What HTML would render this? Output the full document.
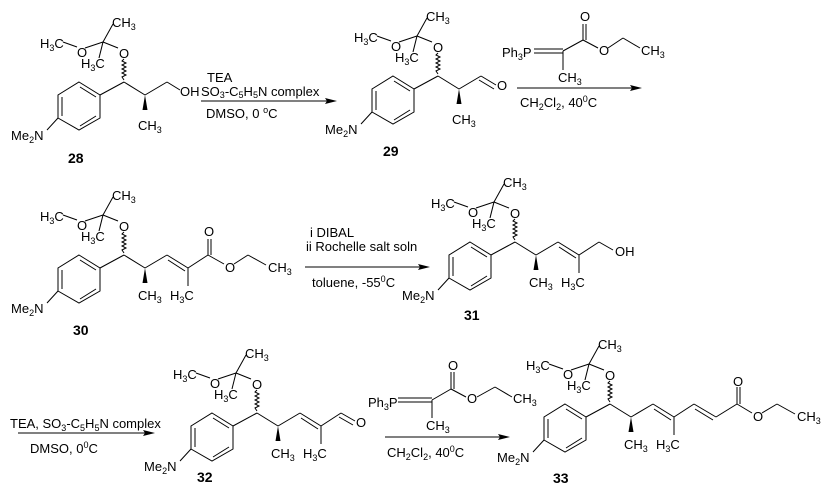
<!DOCTYPE html>
<html><head><meta charset="utf-8"><style>
html,body{margin:0;padding:0;background:#fff;}
svg{display:block;}
text{font-family:"Liberation Sans",Arial,sans-serif;font-size:13px;fill:#000;}
.b{font-weight:bold;font-size:14px;}
</style></head><body>
<svg width="832" height="498" viewBox="0 0 832 498" xmlns="http://www.w3.org/2000/svg">
<defs>
<g id="core" stroke="#000" stroke-width="1" fill="none">
<line x1="103" y1="42" x2="113" y2="24"/>
<line x1="63" y1="42" x2="77" y2="47"/>
<line x1="85" y1="48" x2="103" y2="42"/>
<line x1="103" y1="42" x2="99" y2="58"/>
<line x1="103" y1="42" x2="118" y2="48"/>
<path d="M124 59 l-2 2 l4 2 l-4 2 l4 2 l-4 2 l4 2 l-4 2 l4 2 l-4 2 l2 3"/>
<polygon points="79,82 100,95 100,118 79,130 58,118 58,95"/>
<line x1="62" y1="97" x2="62" y2="116"/>
<line x1="80" y1="87" x2="96" y2="97"/>
<line x1="96" y1="116" x2="80" y2="126"/>
<line x1="58" y1="118" x2="47" y2="130"/>
<line x1="100" y1="95" x2="124" y2="82"/>
<line x1="124" y1="82" x2="145" y2="95"/>
<line x1="145" y1="95" x2="167" y2="82"/>
</g>
<polygon id="wedge" points="145,95 142.5,110 147.5,110" fill="#000"/>
</defs>

<!-- 28 -->
<g>
<use href="#core"/><use href="#wedge"/>
<g stroke="#000" fill="none"><line x1="167" y1="82" x2="180" y2="90"/></g>
<text x="112" y="27">CH<tspan font-size="9" dy="3">3</tspan></text>
<text x="40" y="48">H<tspan font-size="9" dy="3">3</tspan><tspan dy="-3">C</tspan></text>
<text x="77" y="57">O</text>
<text x="81" y="68">H<tspan font-size="9" dy="3">3</tspan><tspan dy="-3">C</tspan></text>
<text x="119" y="58">O</text>
<text x="138" y="130">CH<tspan font-size="9" dy="3">3</tspan></text>
<text x="11" y="140">Me<tspan font-size="9" dy="3">2</tspan><tspan dy="-3">N</tspan></text>
<text x="180" y="96">OH</text>
<text class="b" x="68" y="163">28</text>
</g>

<!-- arrow 1 -->
<g stroke="#000"><line x1="201" y1="101" x2="333" y2="101"/></g>
<polygon points="337,101 325,98 327,101 325,104" fill="#000"/>
<text x="207" y="82">TEA</text>
<text x="201" y="96">SO<tspan font-size="9" dy="2">3</tspan><tspan dy="-2">-C</tspan><tspan font-size="9" dy="2">5</tspan><tspan dy="-2">H</tspan><tspan font-size="9" dy="2">5</tspan><tspan dy="-2">N complex</tspan></text>
<text x="206" y="118">DMSO, 0 <tspan font-size="9" dy="-5">o</tspan><tspan dy="5">C</tspan></text>

<!-- 29 -->
<g transform="translate(314,-6)">
<use href="#core"/><use href="#wedge"/>
<g stroke="#000" fill="none"><line x1="167" y1="82" x2="182" y2="91"/><line x1="165" y1="86" x2="180" y2="95"/></g>
<text x="112" y="27">CH<tspan font-size="9" dy="3">3</tspan></text>
<text x="40" y="48">H<tspan font-size="9" dy="3">3</tspan><tspan dy="-3">C</tspan></text>
<text x="77" y="57">O</text>
<text x="81" y="68">H<tspan font-size="9" dy="3">3</tspan><tspan dy="-3">C</tspan></text>
<text x="119" y="58">O</text>
<text x="138" y="130">CH<tspan font-size="9" dy="3">3</tspan></text>
<text x="11" y="140">Me<tspan font-size="9" dy="3">2</tspan><tspan dy="-3">N</tspan></text>
<text x="183" y="96">O</text>
<text class="b" x="69" y="162">29</text>
</g>

<!-- arrow 2 -->
<g stroke="#000" fill="none">
<line x1="517" y1="88" x2="638" y2="88"/>
<line x1="534" y1="49" x2="563" y2="49"/><line x1="534" y1="53" x2="563" y2="53"/>
<line x1="563" y1="51" x2="563" y2="70"/>
<line x1="563" y1="51" x2="583" y2="40"/>
<line x1="583" y1="40" x2="583" y2="24"/><line x1="586" y1="40" x2="586" y2="24"/>
<line x1="583" y1="40" x2="598" y2="48"/>
<line x1="608" y1="48" x2="623" y2="38"/>
<line x1="623" y1="38" x2="640" y2="48"/>
</g>
<polygon points="642,88 630,85 632,88 630,91" fill="#000"/>
<text x="502" y="57">Ph<tspan font-size="9" dy="3">3</tspan><tspan dy="-3">P</tspan></text>
<text x="558" y="82">CH<tspan font-size="9" dy="3">3</tspan></text>
<text x="580" y="21">O</text>
<text x="599" y="55">O</text>
<text x="641" y="55">CH<tspan font-size="9" dy="3">3</tspan></text>
<text x="520" y="107">CH<tspan font-size="9" dy="3">2</tspan><tspan dy="-3">Cl</tspan><tspan font-size="9" dy="3">2</tspan><tspan dy="-3">, 40</tspan><tspan font-size="9" dy="-5">0</tspan><tspan dy="5">C</tspan></text>

<!-- 30 -->
<g transform="translate(0,173)">
<use href="#core"/><use href="#wedge"/>
<g stroke="#000" fill="none">
<line x1="167" y1="82" x2="188" y2="95"/><line x1="168" y1="87" x2="185" y2="98"/>
<line x1="188" y1="95" x2="188" y2="113"/>
<line x1="188" y1="95" x2="208" y2="82"/>
<line x1="208" y1="82" x2="208" y2="66"/><line x1="211" y1="82" x2="211" y2="66"/>
<line x1="208" y1="82" x2="224" y2="91"/>
<line x1="234" y1="91" x2="248" y2="82"/>
<line x1="248" y1="82" x2="266" y2="92"/>
</g>
<text x="112" y="27">CH<tspan font-size="9" dy="3">3</tspan></text>
<text x="40" y="48">H<tspan font-size="9" dy="3">3</tspan><tspan dy="-3">C</tspan></text>
<text x="77" y="57">O</text>
<text x="81" y="68">H<tspan font-size="9" dy="3">3</tspan><tspan dy="-3">C</tspan></text>
<text x="119" y="58">O</text>
<text x="138" y="127">CH<tspan font-size="9" dy="3">3</tspan></text>
<text x="170" y="127">H<tspan font-size="9" dy="3">3</tspan><tspan dy="-3">C</tspan></text>
<text x="204" y="63">O</text>
<text x="225" y="99">O</text>
<text x="268" y="99">CH<tspan font-size="9" dy="3">3</tspan></text>
<text x="11" y="140">Me<tspan font-size="9" dy="3">2</tspan><tspan dy="-3">N</tspan></text>
<text class="b" x="73" y="162">30</text>
</g>

<!-- arrow 3 -->
<g stroke="#000"><line x1="305" y1="267" x2="426" y2="267"/></g>
<polygon points="430,267 418,264 420,267 418,270" fill="#000"/>
<text x="310" y="237">i DIBAL</text>
<text x="306" y="251">ii Rochelle salt soln</text>
<text x="312" y="287">toluene, -55<tspan font-size="9" dy="-5">0</tspan><tspan dy="5">C</tspan></text>

<!-- 31 -->
<g transform="translate(391,160)">
<use href="#core"/><use href="#wedge"/>
<g stroke="#000" fill="none">
<line x1="167" y1="82" x2="188" y2="95"/><line x1="168" y1="87" x2="185" y2="98"/>
<line x1="188" y1="95" x2="188" y2="113"/>
<line x1="188" y1="95" x2="208" y2="82"/>
<line x1="208" y1="82" x2="222" y2="90"/>
</g>
<text x="112" y="27">CH<tspan font-size="9" dy="3">3</tspan></text>
<text x="40" y="48">H<tspan font-size="9" dy="3">3</tspan><tspan dy="-3">C</tspan></text>
<text x="77" y="57">O</text>
<text x="81" y="68">H<tspan font-size="9" dy="3">3</tspan><tspan dy="-3">C</tspan></text>
<text x="119" y="58">O</text>
<text x="138" y="127">CH<tspan font-size="9" dy="3">3</tspan></text>
<text x="170" y="127">H<tspan font-size="9" dy="3">3</tspan><tspan dy="-3">C</tspan></text>
<text x="224" y="96">OH</text>
<text x="11" y="140">Me<tspan font-size="9" dy="3">2</tspan><tspan dy="-3">N</tspan></text>
<text class="b" x="73" y="160">31</text>
</g>

<!-- arrow 4 -->
<g stroke="#000"><line x1="18" y1="433" x2="151" y2="433"/></g>
<polygon points="155,433 143,430 145,433 143,436" fill="#000"/>
<text x="10" y="428">TEA, SO<tspan font-size="9" dy="3">3</tspan><tspan dy="-3">-C</tspan><tspan font-size="9" dy="3">5</tspan><tspan dy="-3">H</tspan><tspan font-size="9" dy="3">5</tspan><tspan dy="-3">N complex</tspan></text>
<text x="30" y="453">DMSO, 0<tspan font-size="9" dy="-5">0</tspan><tspan dy="5">C</tspan></text>

<!-- 32 -->
<g transform="translate(133,331)">
<use href="#core"/><use href="#wedge"/>
<g stroke="#000" fill="none">
<line x1="167" y1="82" x2="188" y2="95"/><line x1="168" y1="87" x2="185" y2="98"/>
<line x1="188" y1="95" x2="188" y2="113"/>
<line x1="188" y1="95" x2="208" y2="82"/>
<line x1="208" y1="82" x2="222" y2="90"/><line x1="206" y1="86" x2="220" y2="94"/>
</g>
<text x="112" y="27">CH<tspan font-size="9" dy="3">3</tspan></text>
<text x="40" y="48">H<tspan font-size="9" dy="3">3</tspan><tspan dy="-3">C</tspan></text>
<text x="77" y="57">O</text>
<text x="81" y="68">H<tspan font-size="9" dy="3">3</tspan><tspan dy="-3">C</tspan></text>
<text x="119" y="58">O</text>
<text x="138" y="127">CH<tspan font-size="9" dy="3">3</tspan></text>
<text x="170" y="127">H<tspan font-size="9" dy="3">3</tspan><tspan dy="-3">C</tspan></text>
<text x="223" y="96">O</text>
<text x="11" y="140">Me<tspan font-size="9" dy="3">2</tspan><tspan dy="-3">N</tspan></text>
<text class="b" x="64" y="151">32</text>
</g>

<!-- arrow 5 -->
<g stroke="#000" fill="none">
<line x1="385" y1="437" x2="506" y2="437"/>
<line x1="398" y1="398" x2="432" y2="398"/><line x1="398" y1="402" x2="432" y2="402"/>
<line x1="432" y1="400" x2="432" y2="418"/>
<line x1="432" y1="400" x2="451" y2="389"/>
<line x1="451" y1="389" x2="451" y2="372"/><line x1="454" y1="389" x2="454" y2="372"/>
<line x1="451" y1="389" x2="466" y2="397"/>
<line x1="477" y1="397" x2="495" y2="387"/>
<line x1="495" y1="387" x2="512" y2="397"/>
</g>
<polygon points="510,437 498,434 500,437 498,440" fill="#000"/>
<text x="368" y="407">Ph<tspan font-size="9" dy="3">3</tspan><tspan dy="-3">P</tspan></text>
<text x="426" y="430">CH<tspan font-size="9" dy="3">3</tspan></text>
<text x="448" y="370">O</text>
<text x="467" y="403">O</text>
<text x="513" y="403">CH<tspan font-size="9" dy="3">3</tspan></text>
<text x="387" y="457">CH<tspan font-size="9" dy="3">2</tspan><tspan dy="-3">Cl</tspan><tspan font-size="9" dy="3">2</tspan><tspan dy="-3">, 40</tspan><tspan font-size="9" dy="-5">0</tspan><tspan dy="5">C</tspan></text>

<!-- 33 -->
<g transform="translate(486,322)">
<use href="#core"/><use href="#wedge"/>
<g stroke="#000" fill="none">
<line x1="167" y1="82" x2="188" y2="95"/><line x1="168" y1="87" x2="185" y2="98"/>
<line x1="188" y1="95" x2="188" y2="113"/>
<line x1="188" y1="95" x2="208" y2="82"/>
<line x1="208" y1="82" x2="230" y2="95"/><line x1="209" y1="87" x2="227" y2="98"/>
<line x1="230" y1="95" x2="251" y2="82"/>
<line x1="251" y1="82" x2="251" y2="65"/><line x1="254" y1="82" x2="254" y2="65"/>
<line x1="251" y1="82" x2="266" y2="91"/>
<line x1="276" y1="91" x2="291" y2="82"/>
<line x1="291" y1="82" x2="309" y2="92"/>
</g>
<text x="112" y="27">CH<tspan font-size="9" dy="3">3</tspan></text>
<text x="40" y="48">H<tspan font-size="9" dy="3">3</tspan><tspan dy="-3">C</tspan></text>
<text x="77" y="57">O</text>
<text x="81" y="68">H<tspan font-size="9" dy="3">3</tspan><tspan dy="-3">C</tspan></text>
<text x="119" y="58">O</text>
<text x="138" y="127">CH<tspan font-size="9" dy="3">3</tspan></text>
<text x="170" y="127">H<tspan font-size="9" dy="3">3</tspan><tspan dy="-3">C</tspan></text>
<text x="247" y="64">O</text>
<text x="267" y="99">O</text>
<text x="311" y="99">CH<tspan font-size="9" dy="3">3</tspan></text>
<text x="11" y="140">Me<tspan font-size="9" dy="3">2</tspan><tspan dy="-3">N</tspan></text>
<text class="b" x="67" y="161">33</text>
</g>
</svg>
</body></html>
